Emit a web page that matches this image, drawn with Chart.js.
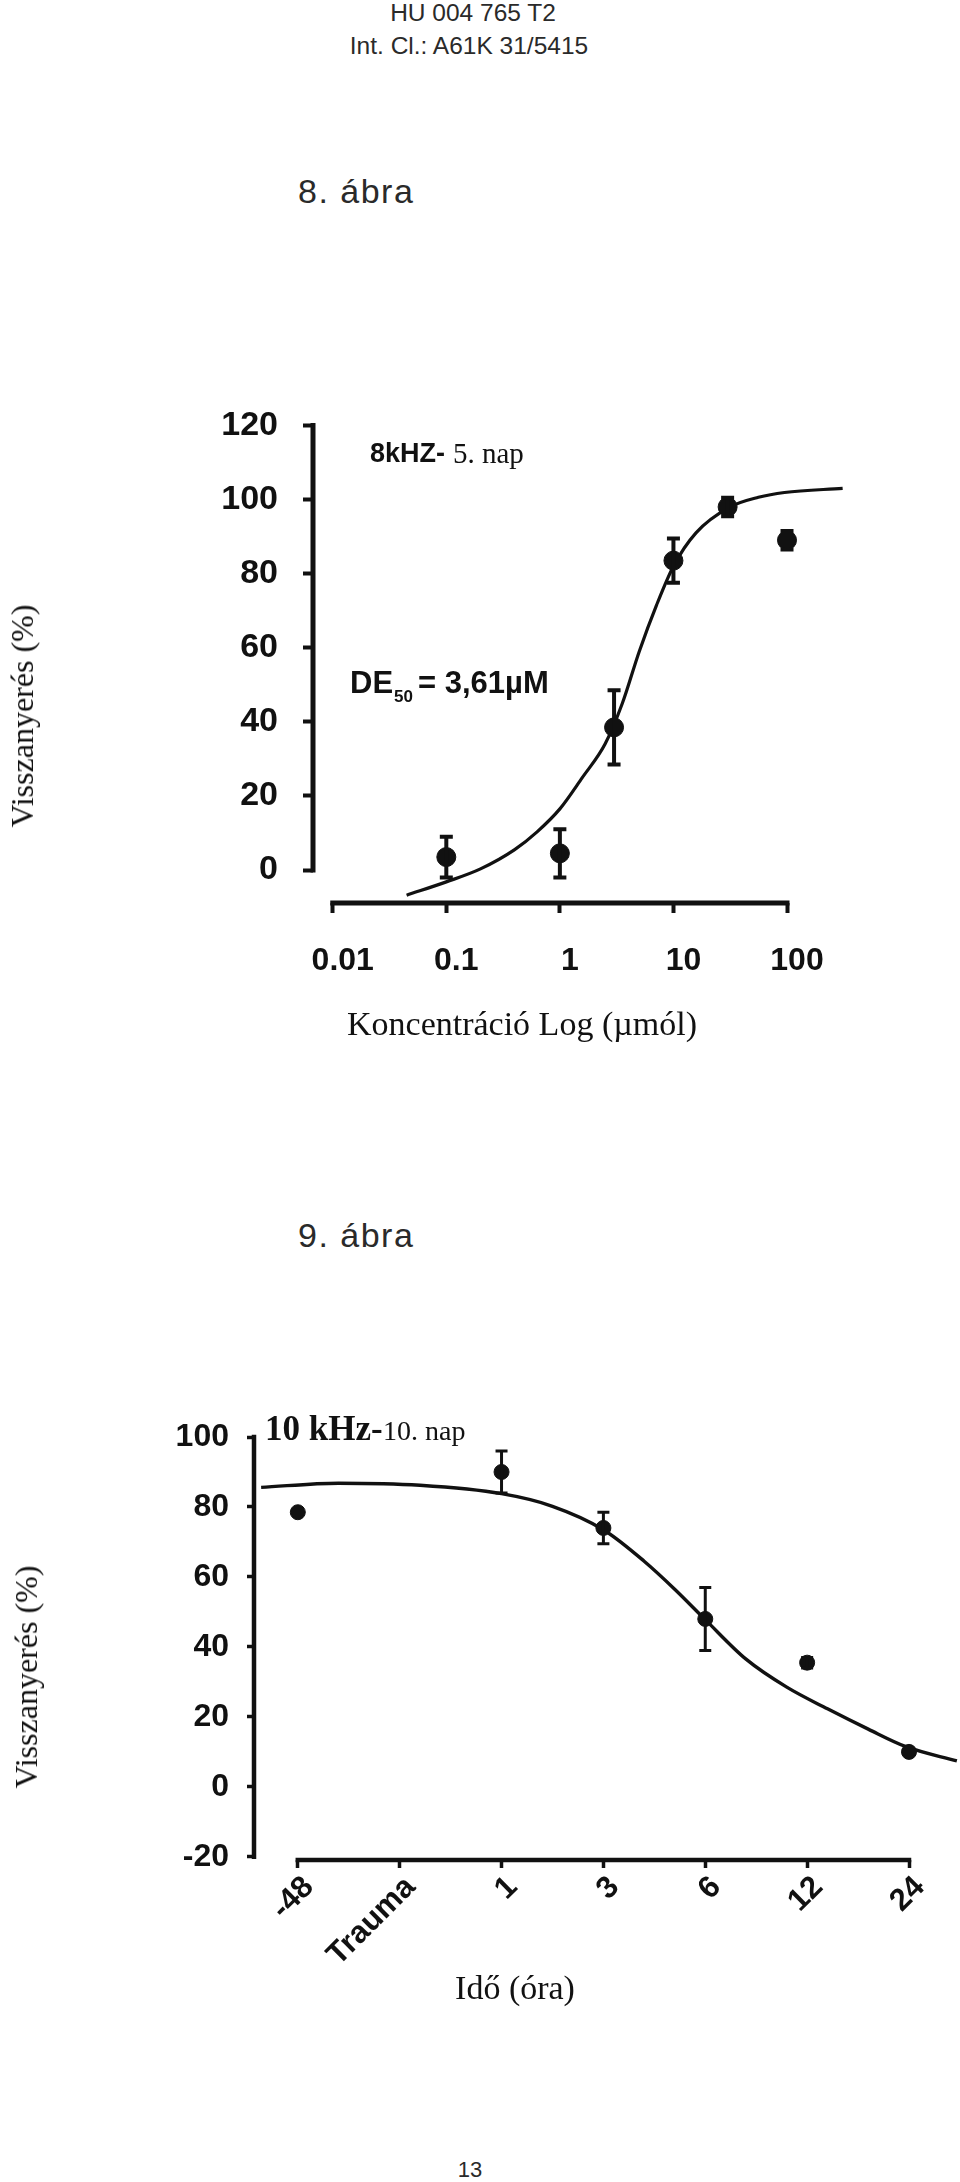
<!DOCTYPE html>
<html>
<head>
<meta charset="utf-8">
<script src="https://cdn.jsdelivr.net/npm/chart.js@4/dist/chart.umd.min.js"></script>
<style>
html, body { margin: 0; padding: 0; background: #fff; }
body { width: 960px; height: 2182px; position: relative; overflow: hidden; }
.t { position: absolute; white-space: nowrap; line-height: 1; color: #111; }
.sans { font-family: "Liberation Sans", Arial, sans-serif; }
.serif { font-family: "Liberation Serif", "Times New Roman", serif; }
.b { font-weight: bold; }
canvas { position: absolute; left: 0; }
</style>
</head>
<body>
<div class="t sans" style="left:473px;top:1.3px;font-size:24.5px;transform:translateX(-50%);color:#2a2a2a">HU 004 765 T2</div>
<div class="t sans" style="left:469px;top:34.3px;font-size:24.5px;transform:translateX(-50%);color:#2a2a2a">Int. Cl.: A61K 31/5415</div>
<div class="t sans" style="left:298px;top:174.2px;font-size:34px;letter-spacing:1.5px;color:#2a2a2a">8. ábra</div>

<canvas id="c8" width="960" height="700" style="top:380px"></canvas>
<div class="t serif" style="left:22px;top:716px;font-size:32px;transform:translate(-50%,-50%) rotate(-90deg)">Visszanyerés (%)</div>
<div class="t sans b" style="left:370px;top:440.1px;font-size:27px">8kHZ-</div>
<div class="t serif" style="left:453px;top:438.7px;font-size:29px">5. nap</div>
<div class="t sans b" style="left:350px;top:666.7px;font-size:31px">DE</div>
<div class="t sans b" style="left:394px;top:687.6px;font-size:17px">50</div>
<div class="t sans b" style="left:418px;top:666.7px;font-size:31px">= 3,61µM</div>
<div class="t serif" style="left:522px;top:1006.5px;font-size:34px;transform:translateX(-50%)">Koncentráció Log (µmól)</div>

<div class="t sans" style="left:298px;top:1218px;font-size:34px;letter-spacing:1.5px;color:#2a2a2a">9. ábra</div>

<canvas id="c9" width="960" height="640" style="top:1390px"></canvas>
<div class="t serif" style="left:26px;top:1677px;font-size:32px;transform:translate(-50%,-50%) rotate(-90deg)">Visszanyerés (%)</div>
<div class="t serif b" style="left:265px;top:1410.7px;font-size:35px">10 kHz-</div>
<div class="t serif" style="left:383px;top:1416.6px;font-size:28px">10. nap</div>
<div class="t serif" style="left:515px;top:1971px;font-size:34px;transform:translateX(-50%)">Idő (óra)</div>

<div class="t sans" style="left:470px;top:2159.4px;font-size:22px;transform:translateX(-50%);color:#2a2a2a">13</div>

<script>
// ---------- Figure 8 data ----------
const conc8 = [0.1, 1, 3, 10, 30, 100];
const recovery8 = [3.5, 4.5, 38.5, 83.5, 98, 89];
const sem8 = [5.5, 6.5, 10, 6, 2.5, 2.5];
const fitConc8 = [0.0447, 0.1, 0.2, 0.4, 0.63, 1, 1.58, 2.5, 3.55, 5, 7.1, 10, 15.8, 31.6, 56, 95, 309];
const fitRecovery8 = [-6.8, -3.2, 0.3, 5.5, 10.3, 16.5, 25, 34, 45, 59, 71.5, 82, 91, 98, 100.6, 101.9, 103];
const xTicks8 = [0.01, 0.1, 1, 10, 100];
const xTickLabels8 = ["0.01", "0.1", "1", "10", "100"];
const yTicks8 = [0, 20, 40, 60, 80, 100, 120];

// ---------- Figure 9 data ----------
const timeCategories9 = ["-48", "Trauma", "1", "3", "6", "12", "24"];
const pointTimes9 = ["-48", "1", "3", "6", "12", "24"];
const recovery9 = [78.5, 90, 74, 48, 35.5, 10];
const sem9 = [0, 6, 4.5, 9, 1.5, 0];
const fitPos9 = [-0.36, 0.4, 1.2, 2.0, 2.5, 3.0, 3.4, 3.7, 4.0, 4.4, 4.8, 5.2, 5.6, 5.97, 6.47];
const fitRecovery9 = [85.6, 86.8, 86.2, 83.8, 80.2, 73.5, 64.5, 56.5, 47.8, 36.5, 28.5, 22.3, 16.5, 11.5, 7.4];
const yTicks9 = [-20, 0, 20, 40, 60, 80, 100];

const INK = '#111';
const SANS = '"Liberation Sans", Arial, sans-serif';

// Axis lines drawn only over the value span (detached axes, as in the figure)
const axisLines = {
  id: 'axisLines',
  afterDraw(chart, args, o) {
    const { ctx, chartArea, scales: { x, y } } = chart;
    ctx.save();
    ctx.strokeStyle = INK;
    ctx.lineWidth = o.width;
    ctx.lineCap = 'square';
    ctx.beginPath();
    ctx.moveTo(chartArea.left, y.getPixelForValue(o.yFrom));
    ctx.lineTo(chartArea.left, y.getPixelForValue(o.yTo));
    ctx.stroke();
    ctx.beginPath();
    ctx.moveTo(x.getPixelForValue(o.xFrom), chartArea.bottom);
    ctx.lineTo(x.getPixelForValue(o.xTo), chartArea.bottom);
    ctx.stroke();
    ctx.restore();
  }
};

// Vertical error bars with caps
const errorBars = {
  id: 'errorBars',
  afterDatasetsDraw(chart, args, o) {
    const { ctx, scales: { x, y } } = chart;
    ctx.save();
    ctx.strokeStyle = INK;
    ctx.lineWidth = o.width;
    chart.data.datasets.forEach(ds => {
      if (!ds.errorBars) return;
      ds.data.forEach((p, j) => {
        const e = ds.errorBars[j];
        if (!e) return;
        const px = x.getPixelForValue(p.x);
        const t = y.getPixelForValue(p.y + e);
        const b = y.getPixelForValue(p.y - e);
        ctx.beginPath();
        ctx.moveTo(px, t); ctx.lineTo(px, b);
        ctx.moveTo(px - o.cap, t); ctx.lineTo(px + o.cap, t);
        ctx.moveTo(px - o.cap, b); ctx.lineTo(px + o.cap, b);
        ctx.stroke();
      });
    });
    ctx.restore();
  }
};

function tickFont(size) { return { family: SANS, size: size, weight: 'bold' }; }

// ---------- Figure 8 chart ----------
new Chart(document.getElementById('c8'), {
  type: 'scatter',
  data: {
    datasets: [
      {
        type: 'line',
        data: fitConc8.map((v, i) => ({ x: v, y: fitRecovery8[i] })),
        borderColor: INK, borderWidth: 3.2, pointRadius: 0, fill: false,
        cubicInterpolationMode: 'monotone', clip: false, order: 2
      },
      {
        data: conc8.map((v, i) => ({ x: v, y: recovery8[i] })),
        errorBars: sem8,
        backgroundColor: INK, borderColor: INK, pointRadius: 9.5, pointHoverRadius: 9.5,
        clip: false, order: 1
      }
    ]
  },
  options: {
    responsive: false, animation: false, devicePixelRatio: 1, events: [],
    layout: { padding: { top: 45, right: 173, left: 0, bottom: 0 } },
    plugins: {
      legend: { display: false }, tooltip: { enabled: false },
      axisLines: { width: 5, xFrom: 0.01, xTo: 100, yFrom: 0, yTo: 120 },
      errorBars: { width: 4, cap: 6.5 }
    },
    scales: {
      x: {
        type: 'logarithmic', min: 0.0067, max: 100,
        afterFit: s => { s.height = 177; },
        afterBuildTicks: s => { s.ticks = xTicks8.map(v => ({ value: v })); },
        ticks: {
          callback: (v, i) => xTickLabels8[i],
          font: tickFont(32), color: INK, padding: 29, labelOffset: 10,
          minRotation: 0, maxRotation: 0, autoSkip: false
        },
        grid: { display: true, drawOnChartArea: false, drawTicks: true, tickLength: 10, tickWidth: 4, tickColor: INK },
        border: { display: false }
      },
      y: {
        type: 'linear', min: -8.9, max: 120,
        afterFit: s => { s.width = 313; },
        afterBuildTicks: s => { s.ticks = yTicks8.map(v => ({ value: v })); },
        ticks: { font: tickFont(34), color: INK, padding: 25, autoSkip: false },
        grid: { display: true, drawOnChartArea: false, drawTicks: true, tickLength: 10, tickWidth: 4, tickColor: INK },
        border: { display: false }
      }
    }
  },
  plugins: [axisLines, errorBars]
});

// ---------- Figure 9 chart ----------
new Chart(document.getElementById('c9'), {
  type: 'scatter',
  data: {
    datasets: [
      {
        type: 'line',
        data: fitPos9.map((v, i) => ({ x: v, y: fitRecovery9[i] })),
        borderColor: INK, borderWidth: 3.4, pointRadius: 0, fill: false,
        cubicInterpolationMode: 'monotone', clip: false, order: 2
      },
      {
        data: pointTimes9.map((t, i) => ({ x: timeCategories9.indexOf(t), y: recovery9[i] })),
        errorBars: sem9,
        backgroundColor: INK, borderColor: INK, pointRadius: 7.5, pointHoverRadius: 7.5,
        clip: false, order: 1
      }
    ]
  },
  options: {
    responsive: false, animation: false, devicePixelRatio: 1, events: [],
    layout: { padding: { top: 47, right: 51, left: 0, bottom: 0 } },
    plugins: {
      legend: { display: false }, tooltip: { enabled: false },
      axisLines: { width: 4.5, xFrom: 0, xTo: timeCategories9.length - 1, yFrom: -20, yTo: 100 },
      errorBars: { width: 3, cap: 6 }
    },
    scales: {
      x: {
        type: 'linear', min: -0.43, max: timeCategories9.length - 1,
        afterFit: s => { s.height = 170; },
        afterBuildTicks: s => { s.ticks = timeCategories9.map((c, i) => ({ value: i })); },
        ticks: {
          callback: (v, i) => timeCategories9[i],
          font: tickFont(31), color: INK, padding: 1, labelOffset: 11,
          minRotation: 45, maxRotation: 45, autoSkip: false
        },
        grid: { display: true, drawOnChartArea: false, drawTicks: true, tickLength: 8, tickWidth: 3.5, tickColor: INK },
        border: { display: false }
      },
      y: {
        type: 'linear', min: -20.9, max: 100,
        afterFit: s => { s.width = 254; },
        afterBuildTicks: s => { s.ticks = yTicks9.map(v => ({ value: v })); },
        ticks: { font: tickFont(32), color: INK, padding: 18, autoSkip: false },
        grid: { display: true, drawOnChartArea: false, drawTicks: true, tickLength: 7, tickWidth: 3.5, tickColor: INK },
        border: { display: false }
      }
    }
  },
  plugins: [axisLines, errorBars]
});
</script>
</body>
</html>
